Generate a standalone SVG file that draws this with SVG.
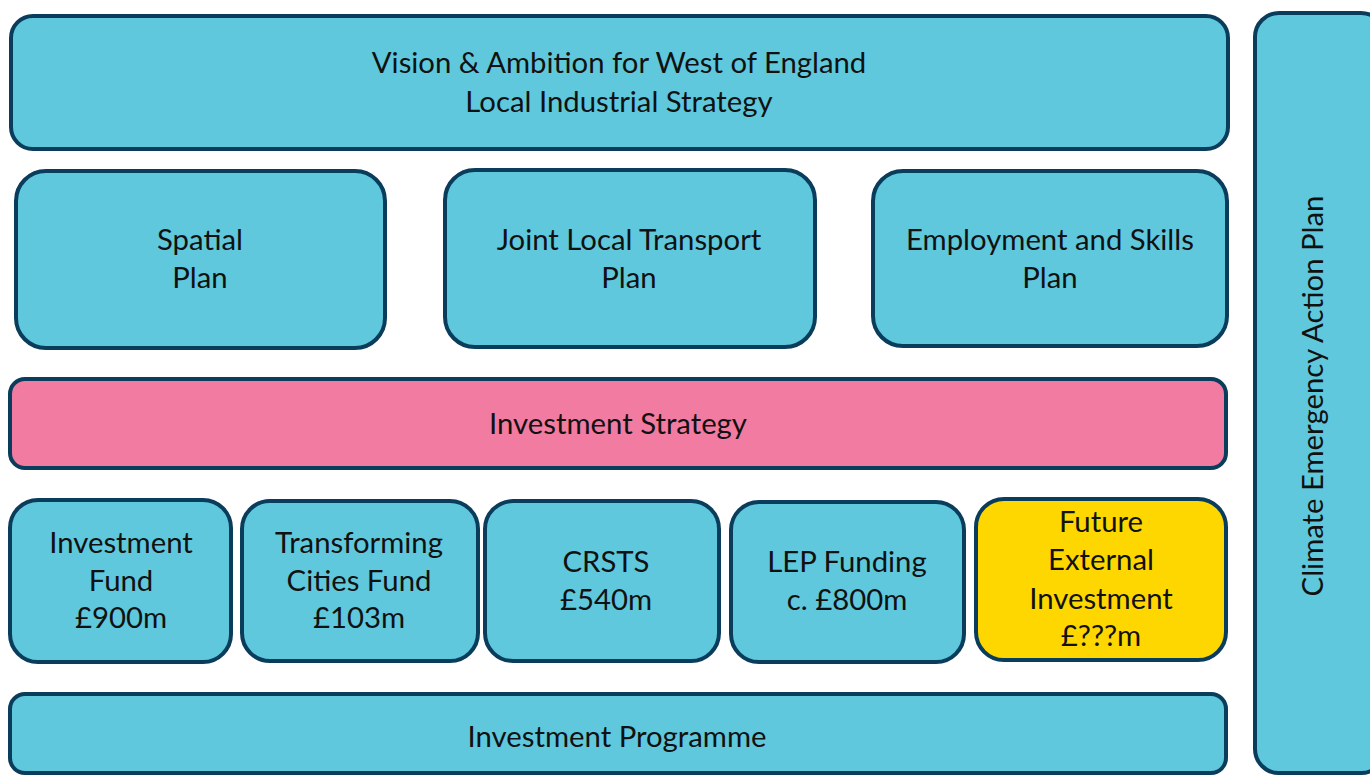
<svg xmlns="http://www.w3.org/2000/svg" width="1370" height="776" viewBox="0 0 1370 776">
  <style>
    .box { fill: #5fc8dc; stroke: #0a3d5c; stroke-width: 4; }
    .pink { fill: #f27ba2; }
    .gold { fill: #ffd700; }
    text { font-family: Lato, "Open Sans", sans-serif; font-size: 29.3px; fill: #111; text-anchor: middle; }
  </style>
  <rect width="1370" height="776" fill="#ffffff"/>

  <!-- top band -->
  <g id="vision">
    <rect class="box" x="11" y="16" width="1217" height="133" rx="22"/>
    <text x="619" y="73">Vision &amp; Ambition for West of England</text>
    <text x="619" y="111.5">Local Industrial Strategy</text>
  </g>

  <!-- tall side column, runs off the right edge -->
  <g id="climate">
    <rect class="box" x="1255" y="13" width="130" height="760" rx="24"/>
    <text transform="translate(1323 396) rotate(-90)">Climate Emergency Action Plan</text>
  </g>

  <!-- plans row -->
  <g id="spatial">
    <rect class="box" x="16" y="171" width="369" height="177" rx="30"/>
    <text x="200" y="250">Spatial</text>
    <text x="200" y="288">Plan</text>
  </g>

  <g id="transport">
    <rect class="box" x="445" y="170" width="370" height="177" rx="30"/>
    <text x="629" y="250">Joint Local Transport</text>
    <text x="629" y="288">Plan</text>
  </g>

  <g id="skills">
    <rect class="box" x="873" y="171" width="354" height="175" rx="30"/>
    <text x="1050" y="250">Employment and Skills</text>
    <text x="1050" y="288">Plan</text>
  </g>

  <g id="strategy">
    <rect class="box pink" x="10" y="379" width="1216" height="89" rx="15"/>
    <text x="618" y="434">Investment Strategy</text>
  </g>

  <!-- funding row -->
  <g id="investment-fund">
    <rect class="box" x="10" y="500" width="221" height="162" rx="28"/>
    <text x="121" y="553">Investment</text>
    <text x="121" y="590.5">Fund</text>
    <text x="121" y="628">£900m</text>
  </g>

  <g id="tcf">
    <rect class="box" x="242" y="501" width="236" height="160" rx="28"/>
    <text x="359" y="553">Transforming</text>
    <text x="359" y="590.5">Cities Fund</text>
    <text x="359" y="628">£103m</text>
  </g>

  <g id="crsts">
    <rect class="box" x="485" y="501" width="234" height="160" rx="28"/>
    <text x="606" y="571.5">CRSTS</text>
    <text x="606" y="609.5">£540m</text>
  </g>

  <g id="lep">
    <rect class="box" x="731" y="502" width="233" height="160" rx="28"/>
    <text x="847" y="571.5">LEP Funding</text>
    <text x="847" y="609.5">c. £800m</text>
  </g>

  <g id="future">
    <rect class="box gold" x="976" y="499" width="250" height="161" rx="28"/>
    <text x="1101" y="532">Future</text>
    <text x="1101" y="570">External</text>
    <text x="1101" y="608.5">Investment</text>
    <text x="1101" y="646">£???m</text>
  </g>

  <g id="programme">
    <rect class="box" x="10" y="694" width="1216" height="79" rx="15"/>
    <text x="617" y="747">Investment Programme</text>
  </g>
</svg>
